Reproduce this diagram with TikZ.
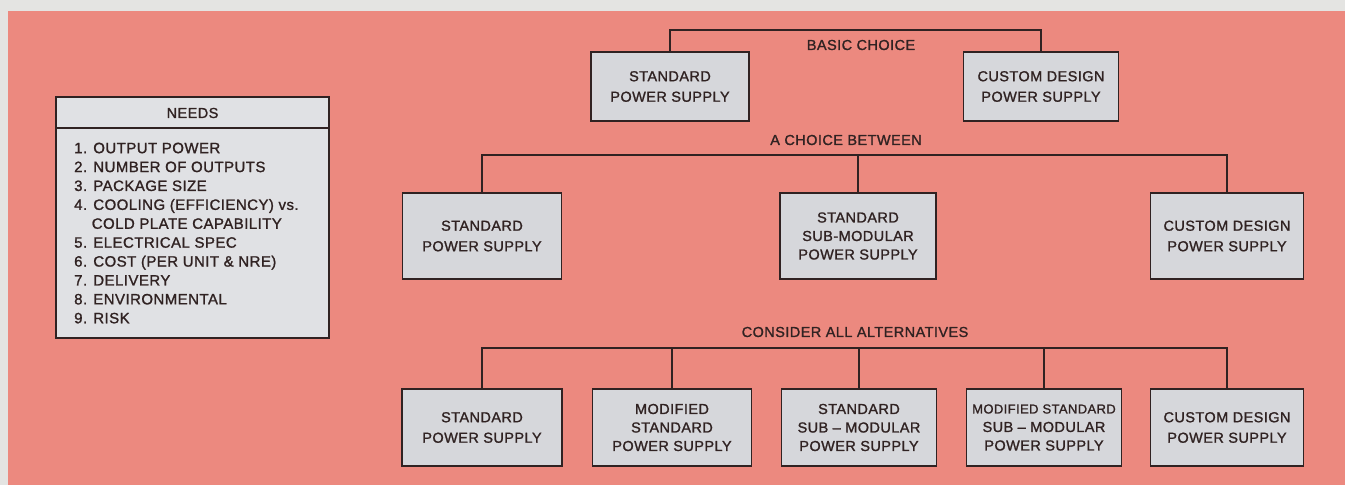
\documentclass[tikz,border=0pt]{standalone}
\usepackage{fontspec}
\setmainfont{Liberation Sans}[FakeBold=1.3, LetterSpace=3]
\definecolor{bgpink}{RGB}{236,137,127}
\definecolor{margin}{RGB}{228,228,226}
\definecolor{boxgrey}{RGB}{214,215,219}
\definecolor{needsgrey}{RGB}{224,225,228}
\definecolor{ink}{RGB}{48,34,34}
\tikzset{
  pbox/.style={draw=ink, line width=1.8pt, fill=boxgrey, rectangle, align=center,
    text=ink, inner sep=2pt, font=\fontsize{14.5}{20.5}\selectfont},
  pbox3/.style={pbox, font=\fontsize{14.5}{18.5}\selectfont},
  wire/.style={draw=ink, line width=1.8pt},
  lbl/.style={text=ink, inner sep=0pt, font=\fontsize{14.5}{17}\selectfont},
  needsbox/.style={draw=ink, line width=1.8pt, fill=needsgrey, rectangle, inner sep=0pt},
}
\begin{document}
\begin{tikzpicture}[x=1pt,y=-1pt]
\useasboundingbox (0,0) rectangle (1345,485);
\fill[margin] (0,0) rectangle (1345,485);
\fill[bgpink] (8,11) rectangle (1345,485);

% NEEDS box
\node[needsbox, minimum width=273, minimum height=241] (needs) at (192.5,217.5) {};
\coordinate (div) at (0,128);
\draw[wire] (needs.west |- div) -- (needs.east |- div);
\node[lbl] (needshead) at (192.5,113) {NEEDS};
\node[lbl, anchor=north west, align=left, font=\fontsize{15}{18.9}\selectfont] (needslist) at (74,142.5)
{1. OUTPUT POWER\\
2. NUMBER OF OUTPUTS\\
3. PACKAGE SIZE\\
4. COOLING (EFFICIENCY) vs.\\
\hphantom{4.}\ COLD PLATE CAPABILITY\\
5. ELECTRICAL SPEC\\
6. COST (PER UNIT \& NRE)\\
7. DELIVERY\\
8. ENVIRONMENTAL\\
9. RISK};

% Level 1
\node[pbox, minimum width=158, minimum height=69] (b1) at (670,86.5) {STANDARD\\POWER SUPPLY};
\node[pbox, minimum width=155, minimum height=69] (b2) at (1041,86.5) {CUSTOM DESIGN\\POWER SUPPLY};
\coordinate (bus1) at (0,30);
\draw[wire] (b1.north) -- (b1.north |- bus1) -- (b2.north |- bus1) -- (b2.north);
\node[lbl] (l1) at (861,45) {BASIC CHOICE};

% Level 2
\node[pbox, minimum width=159, minimum height=86] (a1) at (482,236) {STANDARD\\POWER SUPPLY};
\node[pbox3, minimum width=156, minimum height=86] (a2) at (858,236) {STANDARD\\SUB-MODULAR\\POWER SUPPLY};
\node[pbox, minimum width=153, minimum height=86] (a3) at (1227,236) {CUSTOM DESIGN\\POWER SUPPLY};
\coordinate (bus2) at (0,155);
\draw[wire] (a1.north) -- (a1.north |- bus2) -- (a3.north |- bus2) -- (a3.north);
\draw[wire] (a2.north) -- (a2.north |- bus2);
\node[lbl] (l2) at (846,140) {A CHOICE BETWEEN};

% Level 3
\node[pbox, minimum width=160, minimum height=77] (c1) at (482,427.5) {STANDARD\\POWER SUPPLY};
\node[pbox3, minimum width=159, minimum height=77] (c2) at (672,427.5) {MODIFIED\\STANDARD\\POWER SUPPLY};
\node[pbox3, minimum width=155, minimum height=77] (c3) at (859,427.5) {STANDARD\\SUB -- MODULAR\\POWER SUPPLY};
\node[pbox3, minimum width=155, minimum height=77, inner sep=0pt] (c4) at (1044,427.5) {{\fontsize{13}{18.5}\selectfont MODIFIED STANDARD}\\SUB -- MODULAR\\POWER SUPPLY};
\node[pbox, minimum width=153, minimum height=77] (c5) at (1227,427.5) {CUSTOM DESIGN\\POWER SUPPLY};
\coordinate (bus3) at (0,348);
\draw[wire] (c1.north) -- (c1.north |- bus3) -- (c5.north |- bus3) -- (c5.north);
\draw[wire] (c2.north) -- (c2.north |- bus3);
\draw[wire] (c3.north) -- (c3.north |- bus3);
\draw[wire] (c4.north) -- (c4.north |- bus3);
\node[lbl] (l3) at (855,332) {CONSIDER ALL ALTERNATIVES};
\end{tikzpicture}
\end{document}
